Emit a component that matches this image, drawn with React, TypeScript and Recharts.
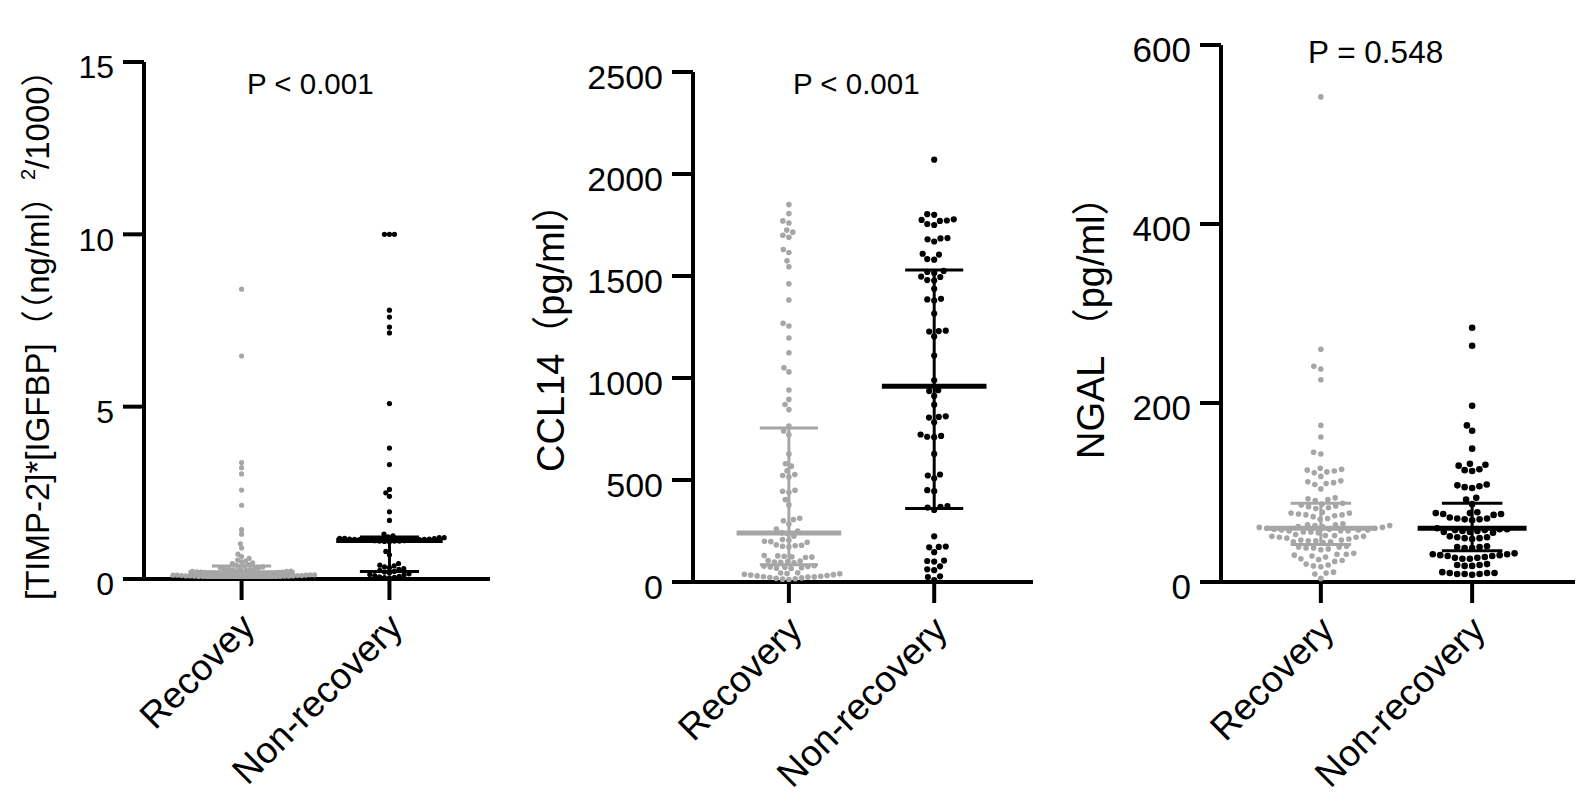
import React from 'react';
import { ScatterChart, Scatter, XAxis, YAxis, ReferenceLine } from 'recharts';

// ---------- data ----------
const panel1Categories = ['Recovey', 'Non-recovery'];
const categories = ['Recovery', 'Non-recovery'];

const timpTicks = [0, 5, 10, 15];
const ccl14Ticks = [0, 500, 1000, 1500, 2000, 2500];
const ngalTicks = [0, 200, 400, 600];

const timpRecovery = [
  8.41, 6.47, 3.38, 3.23, 3.05, 2.58, 2.14, 1.43, 1.3, 1.02, 0.9,
  0.72, 0.65, 0.6, 0.55, 0.52, 0.5, 0.47, 0.45, 0.42, 0.4, 0.38, 0.36, 0.35, 0.33, 0.32, 0.3,
  0.29, 0.28, 0.27, 0.26, 0.25, 0.25, 0.24, 0.23, 0.22, 0.22, 0.21, 0.2, 0.2, 0.19, 0.19,
  0.18, 0.18, 0.17, 0.17, 0.16, 0.16, 0.15, 0.15, 0.15, 0.14, 0.14, 0.14, 0.13, 0.13, 0.13,
  0.12, 0.12, 0.12, 0.11, 0.11, 0.11, 0.1, 0.1, 0.1, 0.09, 0.09, 0.09, 0.08, 0.08, 0.08,
  0.07, 0.07, 0.07, 0.06, 0.06, 0.06, 0.05, 0.05, 0.05, 0.04, 0.04, 0.04, 0.03, 0.03, 0.03,
  0.02, 0.02, 0.02, 0.01, 0.01,
];
const timpNonRecovery = [
  10.0, 10.0, 10.0, 7.8, 7.6, 7.31, 7.14, 5.09, 3.8, 3.32, 2.6, 2.5, 2.4, 1.95, 1.7,
  1.3, 1.25, 1.22, 1.2, 1.2, 1.18, 1.18, 1.17, 1.16, 1.16, 1.15, 1.15, 1.14, 1.14, 1.13,
  1.13, 1.12, 1.12, 1.11, 1.11, 1.1, 1.1, 1.1, 1.09, 1.08, 0.8, 0.7,
  0.45, 0.4, 0.38, 0.35, 0.33, 0.3, 0.28, 0.25, 0.22, 0.2, 0.18, 0.15, 0.13, 0.12, 0.1,
  0.08, 0.06, 0.05, 0.04, 0.03,
];
const timpRecoveryStats = [0.06, 0.18, 0.38]; // q1, median, q3
const timpNonRecoveryStats = [0.22, 1.12, 1.22];

const ccl14Recovery = [
  1850, 1806, 1770, 1760, 1725, 1715, 1700, 1690, 1630, 1615, 1575, 1545, 1462, 1382, 1268,
  1255, 1196, 1124, 1050, 1030, 941, 895, 870, 845, 765, 740, 722, 628, 580, 568, 545, 527,
  522, 515, 450, 445, 440, 404, 378, 312, 306, 300, 284, 260, 250, 241, 236, 225, 208, 205,
  200, 198, 195, 182, 180, 178, 175, 172, 130, 128, 126, 124, 122, 120, 105, 103, 100, 98,
  96, 94, 80, 78, 76, 74, 72, 70, 68, 66, 45, 44, 42, 40, 38, 36, 34, 32, 30, 28, 26, 25,
  24, 22, 20, 18, 16, 14, 12,
];
const ccl14NonRecovery = [
  2070, 1803, 1800, 1778, 1775, 1772, 1770, 1755, 1750, 1686, 1684, 1680, 1669, 1609, 1605,
  1583, 1580, 1525, 1520, 1515, 1497, 1495, 1480, 1478, 1437, 1388, 1385, 1380, 1316, 1232,
  1230, 1228, 1204, 1110, 989, 940, 936, 912, 869, 812, 809, 806, 783, 723, 716, 712, 710,
  628, 527, 522, 508, 450, 445, 372, 368, 365, 353, 224, 174, 172, 170, 146, 105, 103, 100,
  77, 62, 58, 28, 24, 9,
];
const ccl14RecoveryStats = [85, 240, 755];
const ccl14NonRecoveryStats = [360, 960, 1530];

const ngalRecovery = [
  542, 260, 241, 238, 226, 175, 162, 145, 143, 127, 126, 125, 124, 123, 122, 118, 113, 112,
  111, 110, 109, 104, 94, 93, 92, 91, 88, 87, 86, 85, 84, 83, 82, 78, 77, 77, 76, 75, 75, 74,
  73, 71, 70, 65, 64, 64, 63, 63, 62, 62, 61, 61, 60, 60, 59, 59, 58, 58, 58, 57, 57, 57, 56,
  56, 55, 53, 52, 52, 51, 51, 50, 50, 49, 48, 47, 47, 46, 46, 45, 45, 44, 40, 39, 39, 38, 38,
  37, 36, 32, 31, 31, 30, 29, 28, 26, 25, 24, 23, 20, 19, 18, 17, 11, 10, 9, 4,
];
const ngalNonRecovery = [
  284, 264, 197, 175, 169, 149, 132, 131, 130, 126, 125, 124, 109, 108, 107, 106, 105, 94,
  92, 87, 78, 77, 77, 76, 76, 75, 72, 71, 71, 70, 70, 69, 60, 59, 59, 58, 58, 57, 57, 56, 56,
  55, 51, 50, 50, 49, 49, 48, 40, 39, 39, 38, 38, 32, 31, 31, 30, 30, 29, 29, 28, 27, 27, 26,
  26, 20, 19, 19, 18, 18, 11, 10, 10, 10, 9, 9, 9, 8,
];
const ngalRecoveryStats = [42, 60, 88];
const ngalNonRecoveryStats = [35, 60, 88];

// ---------- layout / style ----------
const W = 1594;
const H = 804;
const X_MIN = -0.66;
const X_MAX = 1.68;
const GREY = '#a6a6a6';
const BLACK = '#000000';
const FONT = "'Liberation Sans', Arial, 'Noto Sans CJK SC', sans-serif";

type Geo = { left: number; right: number; top: number; bottom: number; ymax: number };

// beeswarm layout computed from the values (pixel collision avoidance)
function swarm(vals: number[], pxY: number, pxX: number, d: number) {
  const order = vals.map((_, i) => i).sort((a, b) => vals[a] - vals[b]);
  const placed: { x: number; y: number }[] = [];
  const out: { dx: number; y: number }[] = new Array(vals.length);
  for (const i of order) {
    const y = vals[i] * pxY;
    const blocks: [number, number][] = [];
    for (const p of placed) {
      const dy = Math.abs(p.y - y);
      if (dy < d) {
        const w = Math.sqrt(d * d - dy * dy);
        blocks.push([p.x - w, p.x + w]);
      }
    }
    const cands = [0];
    blocks.forEach((b) => cands.push(b[0], b[1]));
    cands.sort((a, b) => Math.abs(a) - Math.abs(b) || a - b);
    let x = 0;
    for (const c of cands) {
      if (blocks.every((b) => c <= b[0] + 1e-6 || c >= b[1] - 1e-6)) {
        x = c;
        break;
      }
    }
    placed.push({ x, y });
    out[i] = { dx: x / pxX, y: vals[i] };
  }
  return out;
}

function Panel(props: {
  geo: Geo;
  rec: number[];
  non: number[];
  recStats: number[];
  nonStats: number[];
  ticks: number[];
  labels: string[];
  tickFont: number;
  recR: number;
  nonR: number;
  recDiam: number;
  nonDiam: number;
}) {
  const { geo, rec, non, recStats, nonStats, ticks, labels, tickFont, recR, nonR, recDiam, nonDiam } = props;
  const pxY = (geo.bottom - geo.top) / geo.ymax;
  const pxX = (geo.right - geo.left) / (X_MAX - X_MIN);
  const recData = swarm(rec, pxY, pxX, recDiam).map((p) => ({ x: 0 + p.dx, y: p.y }));
  const nonData = swarm(non, pxY, pxX, nonDiam).map((p) => ({ x: 1 + p.dx, y: p.y }));

  const yTick = (p: any) => (
    <text
      x={p.x}
      y={p.y}
      dy={tickFont * 0.355 + 5}
      textAnchor="end"
      fontSize={tickFont}
      fontFamily={FONT}
      fill="#000"
    >
      {p.payload.value}
    </text>
  );
  const xTick = (p: any) => {
    const tx = p.x + 6;
    const ty = geo.bottom + 41;
    return (
      <text
        x={tx}
        y={ty}
        dy="0.35em"
        textAnchor="end"
        transform={`rotate(-45 ${tx} ${ty})`}
        fontSize={37}
        fontFamily={FONT}
        fill="#000"
      >
        {labels[Math.round(p.payload.value)]}
      </text>
    );
  };

  const lines = (cx: number, st: number[], color: string) => [
    <ReferenceLine
      key={`v${cx}`}
      segment={[{ x: cx, y: st[0] }, { x: cx, y: st[2] }]}
      stroke={color}
      strokeWidth={3}
      ifOverflow="visible"
    />,
    <ReferenceLine
      key={`q1${cx}`}
      segment={[{ x: cx - 0.2, y: st[0] }, { x: cx + 0.2, y: st[0] }]}
      stroke={color}
      strokeWidth={3}
      ifOverflow="visible"
    />,
    <ReferenceLine
      key={`q3${cx}`}
      segment={[{ x: cx - 0.2, y: st[2] }, { x: cx + 0.2, y: st[2] }]}
      stroke={color}
      strokeWidth={3}
      ifOverflow="visible"
    />,
    <ReferenceLine
      key={`m${cx}`}
      segment={[{ x: cx - 0.36, y: st[1] }, { x: cx + 0.36, y: st[1] }]}
      stroke={color}
      strokeWidth={5}
      ifOverflow="visible"
    />,
  ];

  return (
    <div style={{ position: 'absolute', left: 0, top: 0, width: W, height: H }}>
      <ScatterChart
        width={W}
        height={H}
        margin={{ top: geo.top, left: geo.left - 1, right: W - geo.right, bottom: H - geo.bottom - 1 }}
      >
        <XAxis
          type="number"
          dataKey="x"
          domain={[X_MIN, X_MAX]}
          ticks={[0, 1]}
          interval={0}
          allowDataOverflow
          height={1}
          axisLine={{ stroke: '#000', strokeWidth: 4 }}
          tickLine={{ stroke: '#000', strokeWidth: 4 }}
          tickSize={21}
          tick={xTick}
        />
        <YAxis
          type="number"
          dataKey="y"
          domain={[0, geo.ymax]}
          ticks={ticks}
          interval={0}
          allowDataOverflow
          width={1}
          axisLine={{ stroke: '#000', strokeWidth: 4 }}
          tickLine={{ stroke: '#000', strokeWidth: 4 }}
          tickSize={21}
          tickMargin={9}
          tick={yTick}
        />
        <Scatter
          data={recData}
          isAnimationActive={false}
          shape={(p: any) => <circle cx={p.cx} cy={p.cy} r={recR} fill={GREY} />}
        />
        <Scatter
          data={nonData}
          isAnimationActive={false}
          shape={(p: any) => <circle cx={p.cx} cy={p.cy} r={nonR} fill={BLACK} />}
        />
        {lines(0, recStats, GREY)}
        {lines(1, nonStats, BLACK)}
      </ScatterChart>
    </div>
  );
}

export default function App() {
  return (
    <div style={{ position: 'absolute', left: 0, top: 0, width: W, height: H, background: '#fff', overflow: 'hidden' }}>
      <Panel
        geo={{ left: 144, right: 490, top: 62, bottom: 579, ymax: 15 }}
        rec={timpRecovery}
        non={timpNonRecovery}
        recStats={timpRecoveryStats}
        nonStats={timpNonRecoveryStats}
        ticks={timpTicks}
        labels={panel1Categories}
        tickFont={32}
        recR={2.6}
        nonR={2.6}
        recDiam={4.3}
        nonDiam={5}
      />
      <Panel
        geo={{ left: 693, right: 1033, top: 72, bottom: 582, ymax: 2500 }}
        rec={ccl14Recovery}
        non={ccl14NonRecovery}
        recStats={ccl14RecoveryStats}
        nonStats={ccl14NonRecoveryStats}
        ticks={ccl14Ticks}
        labels={categories}
        tickFont={34}
        recR={2.8}
        nonR={3.1}
        recDiam={6.4}
        nonDiam={7}
      />
      <Panel
        geo={{ left: 1221, right: 1575, top: 45, bottom: 582, ymax: 600 }}
        rec={ngalRecovery}
        non={ngalNonRecovery}
        recStats={ngalRecoveryStats}
        nonStats={ngalNonRecoveryStats}
        ticks={ngalTicks}
        labels={categories}
        tickFont={35}
        recR={2.8}
        nonR={3.3}
        recDiam={7.5}
        nonDiam={7.5}
      />
      <svg
        width={W}
        height={H}
        style={{ position: 'absolute', left: 0, top: 0, pointerEvents: 'none' }}
        fontFamily={FONT}
      >
        <text x={247} y={94} fontSize={29.5} fill="#000">P &lt; 0.001</text>
        <text x={793} y={94} fontSize={29.5} fill="#000">P &lt; 0.001</text>
        <text x={1308} y={63} fontSize={31.5} fill="#000">P = 0.548</text>
        <text x={49} y={600} fontSize={33} fill="#000" transform="rotate(-90 49 600)">
          [TIMP-2]*[IGFBP]（（ng/ml）
          <tspan fontSize={20} dy={-14}>2</tspan>
          <tspan dy={14}>/1000）</tspan>
        </text>
        <text x={564} y={472} fontSize={38} fill="#000" transform="rotate(-90 564 472)">
          CCL14（pg/ml）
        </text>
        <text x={1104} y={459} fontSize={38} fill="#000" transform="rotate(-90 1104 459)">
          NGAL （pg/ml）
        </text>
      </svg>
    </div>
  );
}
